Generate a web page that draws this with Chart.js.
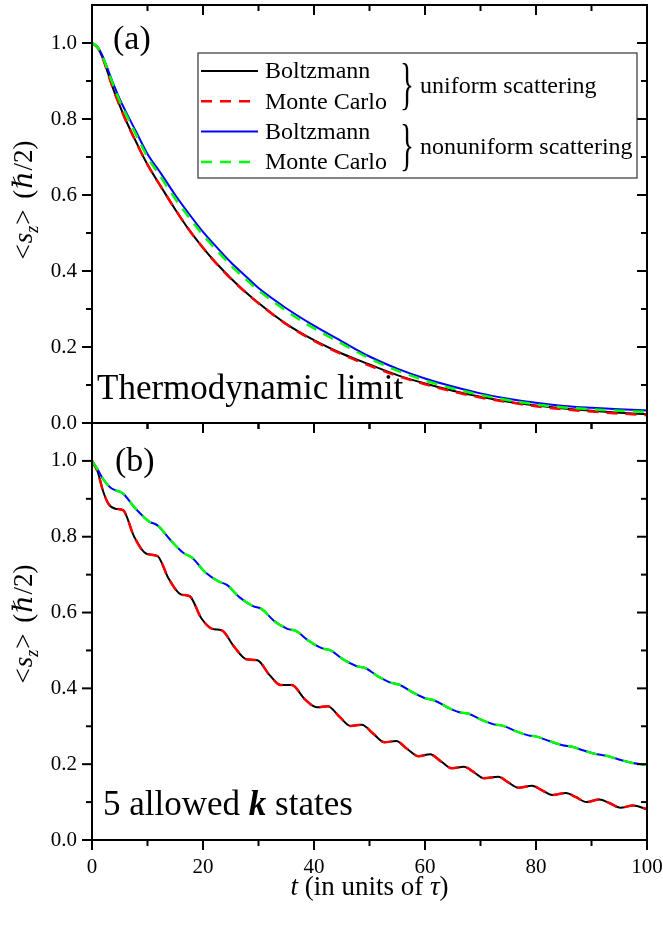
<!DOCTYPE html>
<html>
<head>
<meta charset="utf-8">
<script src="https://cdn.jsdelivr.net/npm/chart.js@4.4.1/dist/chart.umd.min.js"></script>
<style>
  html, body { margin: 0; padding: 0; background: #fff; }
  #wrap { position: relative; width: 663px; height: 928px; }
  #wrap canvas { position: absolute; left: 0; top: 0; }
</style>
</head>
<body>
<div id="wrap">
  <canvas id="panel-a" width="663" height="928"></canvas>
  <canvas id="panel-b" width="663" height="928"></canvas>
</div>
<script>
// (a) thermodynamic limit
const tA = [0, 1, 2, 3, 4, 5, 6, 8, 10, 12.5, 15, 17.5, 20, 22.5, 25, 27.5, 30, 35, 40, 45, 50, 55, 60, 65, 70, 75, 80, 85, 90, 95, 100];
const boltzUniformA = [1.000, 0.988, 0.958, 0.915, 0.872, 0.835, 0.800, 0.738, 0.680, 0.620, 0.562, 0.508, 0.461, 0.419, 0.381, 0.347, 0.316, 0.261, 0.218, 0.183, 0.154, 0.126, 0.104, 0.085, 0.069, 0.056, 0.046, 0.038, 0.032, 0.027, 0.023];
const mcUniformA = [1.000, 0.988, 0.957, 0.914, 0.872, 0.834, 0.799, 0.737, 0.680, 0.620, 0.562, 0.508, 0.461, 0.418, 0.380, 0.346, 0.315, 0.260, 0.216, 0.181, 0.151, 0.124, 0.102, 0.083, 0.067, 0.055, 0.044, 0.036, 0.030, 0.025, 0.021];
const boltzNonuniformA = [1.000, 0.990, 0.963, 0.925, 0.887, 0.852, 0.822, 0.765, 0.708, 0.655, 0.600, 0.550, 0.503, 0.462, 0.423, 0.389, 0.355, 0.302, 0.256, 0.215, 0.175, 0.143, 0.117, 0.096, 0.078, 0.064, 0.053, 0.045, 0.040, 0.036, 0.033];
const mcNonuniformA = [1.000, 0.989, 0.961, 0.922, 0.883, 0.847, 0.816, 0.757, 0.700, 0.645, 0.590, 0.541, 0.495, 0.454, 0.415, 0.381, 0.349, 0.295, 0.249, 0.209, 0.170, 0.138, 0.112, 0.091, 0.074, 0.060, 0.049, 0.041, 0.036, 0.032, 0.029];

// (b) 5 allowed k states
const tUniformB = [0, 1, 2, 3, 4.2, 5.6, 7.6, 9.8, 11.8, 13.8, 16.0, 17.6, 19.7, 21.7, 23.4, 25.6, 27.8, 29.8, 32.0, 34.0, 36.0, 38.3, 40.5, 42.5, 44.6, 46.6, 48.6, 50.7, 52.7, 54.8, 56.8, 58.8, 60.9, 62.9, 64.9, 67.0, 68.9, 70.6, 73.2, 75.0, 76.8, 79.3, 81.1, 82.9, 85.4, 87.2, 89.1, 91.4, 93.3, 95.2, 97.5, 100];
const boltzUniformB = [1.000, 0.972, 0.920, 0.886, 0.874, 0.870, 0.800, 0.755, 0.749, 0.690, 0.648, 0.643, 0.585, 0.557, 0.553, 0.510, 0.477, 0.474, 0.435, 0.409, 0.409, 0.372, 0.350, 0.353, 0.325, 0.301, 0.304, 0.280, 0.258, 0.261, 0.240, 0.221, 0.226, 0.207, 0.189, 0.193, 0.178, 0.163, 0.167, 0.152, 0.138, 0.143, 0.131, 0.119, 0.124, 0.113, 0.100, 0.107, 0.097, 0.085, 0.091, 0.081];
const mcUniformB = [1.000, 0.972, 0.920, 0.886, 0.874, 0.870, 0.800, 0.755, 0.749, 0.690, 0.648, 0.643, 0.585, 0.557, 0.553, 0.510, 0.477, 0.474, 0.435, 0.409, 0.409, 0.372, 0.350, 0.353, 0.325, 0.301, 0.304, 0.280, 0.258, 0.261, 0.240, 0.221, 0.226, 0.207, 0.189, 0.193, 0.178, 0.163, 0.167, 0.152, 0.138, 0.143, 0.131, 0.119, 0.124, 0.113, 0.100, 0.107, 0.097, 0.085, 0.091, 0.081];
const tNonuniformB = [0, 1, 2, 3.3, 4.3, 5.5, 7.8, 10.3, 11.8, 14.2, 16.5, 18.0, 20.4, 22.8, 24.3, 26.6, 29.0, 30.6, 32.8, 35.2, 36.8, 39.0, 41.4, 43.0, 45.2, 47.6, 49.3, 51.4, 53.8, 55.5, 57.6, 60.0, 61.7, 63.8, 66.2, 67.9, 70.0, 72.4, 74.1, 76.2, 78.6, 80.3, 82.4, 84.8, 86.5, 88.6, 91.0, 92.7, 94.8, 97.2, 98.9, 100];
const boltzNonuniformB = [1.000, 0.978, 0.952, 0.930, 0.922, 0.915, 0.875, 0.840, 0.830, 0.790, 0.757, 0.745, 0.706, 0.682, 0.673, 0.640, 0.617, 0.609, 0.578, 0.557, 0.551, 0.526, 0.506, 0.500, 0.477, 0.459, 0.453, 0.433, 0.415, 0.409, 0.391, 0.374, 0.368, 0.352, 0.337, 0.333, 0.318, 0.305, 0.301, 0.288, 0.276, 0.272, 0.261, 0.250, 0.246, 0.236, 0.226, 0.222, 0.213, 0.204, 0.200, 0.198];
const mcNonuniformB = [1.000, 0.978, 0.952, 0.930, 0.922, 0.915, 0.875, 0.840, 0.830, 0.790, 0.757, 0.745, 0.706, 0.682, 0.673, 0.640, 0.617, 0.609, 0.578, 0.557, 0.551, 0.526, 0.506, 0.500, 0.477, 0.459, 0.453, 0.433, 0.415, 0.409, 0.391, 0.374, 0.368, 0.352, 0.337, 0.333, 0.318, 0.305, 0.301, 0.288, 0.276, 0.272, 0.261, 0.250, 0.246, 0.236, 0.226, 0.222, 0.213, 0.204, 0.200, 0.198];

const xTicks = [0, 20, 40, 60, 80, 100];
const xMinorTicks = [10, 30, 50, 70, 90];
const yTicks = [0, 0.2, 0.4, 0.6, 0.8, 1.0];
const yMinorTicks = [0.1, 0.3, 0.5, 0.7, 0.9];
const seriesLabels = ['Boltzmann', 'Monte Carlo', 'Boltzmann', 'Monte Carlo'];
const groupLabels = ['uniform scattering', 'nonuniform scattering'];

const SERIF = '"Liberation Serif", "DejaVu Serif", serif';
const W = 663;
const H = 928;

const toPoints = (ts, vs) => ts.map((t, i) => ({ x: t, y: vs[i] }));

function lineSet(label, ts, vs, color, dashed, order) {
  return {
    label,
    data: toPoints(ts, vs),
    borderColor: color,
    borderWidth: dashed ? 2.5 : 2,
    borderDash: dashed ? [11, 8] : [],
    pointRadius: 0,
    cubicInterpolationMode: 'monotone',
    fill: false,
    order,
  };
}

function drawRuns(ctx, runs, x, y, align) {
  let total = 0;
  runs.forEach((r) => {
    ctx.font = r.font;
    total += ctx.measureText(r.text).width + (r.gap || 0);
  });
  let cx = align === 'center' ? x - total / 2 : x;
  runs.forEach((r) => {
    ctx.font = r.font;
    ctx.fillText(r.text, cx, y + (r.dy || 0));
    cx += ctx.measureText(r.text).width + (r.gap || 0);
  });
}

const yTitleRuns = [
  { text: '<', font: `27px ${SERIF}`, gap: 1 },
  { text: 's', font: `italic 27px ${SERIF}` },
  { text: 'z', font: `italic 18px ${SERIF}`, dy: 6, gap: 1 },
  { text: '>', font: `27px ${SERIF}`, gap: 4 },
  { text: ' (', font: `27px ${SERIF}`, gap: 1 },
  { text: 'ℏ', font: `italic 27px ${SERIF}`, gap: 1 },
  { text: '/2)', font: `27px ${SERIF}` },
];

// frame, ticks on all four sides (left/bottom outward, top/right inward)
const frameTicks = {
  id: 'frameTicks',
  afterDraw(chart) {
    const { ctx, chartArea: a, scales: { x, y } } = chart;
    ctx.save();
    ctx.strokeStyle = '#000';
    ctx.lineWidth = 2;
    ctx.strokeRect(a.left, a.top, a.right - a.left, a.bottom - a.top);
    const seg = (x1, y1, x2, y2) => {
      ctx.beginPath();
      ctx.moveTo(x1, y1);
      ctx.lineTo(x2, y2);
      ctx.stroke();
    };
    const xt = (vals, len) => vals.forEach((v) => {
      const px = x.getPixelForValue(v);
      seg(px, a.bottom, px, a.bottom + len);
      seg(px, a.top, px, a.top + len);
    });
    const yt = (vals, len) => vals.forEach((v) => {
      const py = y.getPixelForValue(v);
      seg(a.left, py, a.left - len, py);
      seg(a.right, py, a.right - len, py);
    });
    xt(xTicks, 10);
    xt(xMinorTicks, 6);
    yt(yTicks, 10);
    yt(yMinorTicks, 6);
    ctx.restore();
  },
};

function panelText(cfg) {
  return {
    id: 'panelText',
    afterDraw(chart) {
      const ctx = chart.ctx;
      ctx.save();
      ctx.fillStyle = '#000';
      ctx.textAlign = 'left';
      ctx.textBaseline = 'alphabetic';
      drawRuns(ctx, cfg.tag, cfg.tagX, cfg.tagY, 'left');
      drawRuns(ctx, cfg.note, cfg.noteX, cfg.noteY, 'left');
      if (cfg.xTitle) {
        drawRuns(ctx, cfg.xTitle, (chart.chartArea.left + chart.chartArea.right) / 2, cfg.xTitleY, 'center');
      }
      ctx.translate(32, cfg.yTitleY);
      ctx.rotate(-Math.PI / 2);
      drawRuns(ctx, yTitleRuns, 0, 0, 'center');
      ctx.restore();
    },
  };
}

const legendBox = { left: 198, top: 53, width: 439, height: 125 };

const legendPlugin = {
  id: 'braceLegend',
  afterDraw(chart) {
    const ctx = chart.ctx;
    const b = legendBox;
    ctx.save();
    ctx.fillStyle = '#fff';
    ctx.fillRect(b.left, b.top, b.width, b.height);
    ctx.strokeStyle = '#333';
    ctx.lineWidth = 1.2;
    ctx.strokeRect(b.left, b.top, b.width, b.height);

    const sets = chart.data.datasets;
    ctx.textBaseline = 'middle';
    ctx.textAlign = 'left';
    ctx.fillStyle = '#000';
    sets.forEach((ds, i) => {
      const ry = b.top + 18 + i * 30.3;
      ctx.save();
      ctx.strokeStyle = ds.borderColor;
      ctx.lineWidth = ds.borderWidth;
      ctx.setLineDash(ds.borderDash);
      ctx.beginPath();
      ctx.moveTo(b.left + 3, ry);
      ctx.lineTo(b.left + 60, ry);
      ctx.stroke();
      ctx.restore();
      ctx.font = `24px ${SERIF}`;
      ctx.fillText(seriesLabels[i], b.left + 67, ry + 1);
    });

    groupLabels.forEach((g, k) => {
      const cy = b.top + 18 + (2 * k + 0.5) * 30.3;
      ctx.save();
      ctx.translate(b.left + 202, cy + 2);
      ctx.scale(0.5, 1);
      ctx.font = `58px ${SERIF}`;
      ctx.fillText('}', 0, 0);
      ctx.restore();
      ctx.font = `24px ${SERIF}`;
      ctx.fillText(g, b.left + 222, cy + 1);
    });
    ctx.restore();
  },
};

function makePanel(canvas, datasets, cfg) {
  const tickFont = { family: SERIF, size: 21 };
  return new Chart(canvas, {
    type: 'line',
    data: { datasets },
    options: {
      responsive: false,
      animation: false,
      devicePixelRatio: 1,
      events: [],
      layout: { padding: { left: 0, right: W - 647, top: cfg.top, bottom: 0 } },
      plugins: { legend: { display: false }, tooltip: { enabled: false } },
      scales: {
        x: {
          type: 'linear',
          min: 0,
          max: 100,
          afterBuildTicks: (s) => { s.ticks = xTicks.map((v) => ({ value: v })); },
          afterFit: (s) => {
            s.height = H - cfg.bottom;
            s.paddingLeft = 0;
            s.paddingRight = 0;
          },
          ticks: {
            display: cfg.showX,
            padding: 15,
            color: '#000',
            font: tickFont,
            maxRotation: 0,
            callback: (v) => String(v),
          },
          grid: { display: false, drawTicks: false },
          border: { display: false },
        },
        y: {
          type: 'linear',
          min: 0,
          max: 1.1,
          afterBuildTicks: (s) => { s.ticks = yTicks.map((v) => ({ value: v })); },
          afterFit: (s) => {
            s.width = 92;
            s.paddingTop = 0;
            s.paddingBottom = 0;
          },
          ticks: {
            padding: 15,
            color: '#000',
            font: tickFont,
            callback: (v) => Number(v).toFixed(1),
          },
          grid: { display: false, drawTicks: false },
          border: { display: false },
        },
      },
    },
    plugins: cfg.plugins,
  });
}

const colors = { black: '#000000', red: '#ff0000', blue: '#0000ff', green: '#00ff00' };

makePanel(document.getElementById('panel-a'), [
  lineSet('Boltzmann', tA, boltzUniformA, colors.black, false, 4),
  lineSet('Monte Carlo', tA, mcUniformA, colors.red, true, 3),
  lineSet('Boltzmann', tA, boltzNonuniformA, colors.blue, false, 2),
  lineSet('Monte Carlo', tA, mcNonuniformA, colors.green, true, 1),
], {
  top: 5,
  bottom: 423,
  showX: false,
  plugins: [frameTicks, legendPlugin, panelText({
    tag: [{ text: '(a)', font: `34px ${SERIF}` }],
    tagX: 113,
    tagY: 49,
    note: [{ text: 'Thermodynamic limit', font: `35px ${SERIF}` }],
    noteX: 97,
    noteY: 399,
    yTitleY: 200,
  })],
});

makePanel(document.getElementById('panel-b'), [
  lineSet('Boltzmann', tUniformB, boltzUniformB, colors.black, false, 4),
  lineSet('Monte Carlo', tUniformB, mcUniformB, colors.red, true, 3),
  lineSet('Boltzmann', tNonuniformB, boltzNonuniformB, colors.blue, false, 2),
  lineSet('Monte Carlo', tNonuniformB, mcNonuniformB, colors.green, true, 1),
], {
  top: 423,
  bottom: 840,
  showX: true,
  plugins: [frameTicks, panelText({
    tag: [{ text: '(b)', font: `34px ${SERIF}` }],
    tagX: 115,
    tagY: 471,
    note: [
      { text: '5 allowed ', font: `35px ${SERIF}` },
      { text: 'k', font: `italic bold 35px ${SERIF}` },
      { text: ' states', font: `35px ${SERIF}` },
    ],
    noteX: 103,
    noteY: 815,
    xTitle: [
      { text: 't', font: `italic 27px ${SERIF}` },
      { text: ' (in units of ', font: `27px ${SERIF}` },
      { text: 'τ', font: `italic 27px ${SERIF}` },
      { text: ')', font: `27px ${SERIF}` },
    ],
    xTitleY: 895,
    yTitleY: 624,
  })],
});
</script>
</body>
</html>
